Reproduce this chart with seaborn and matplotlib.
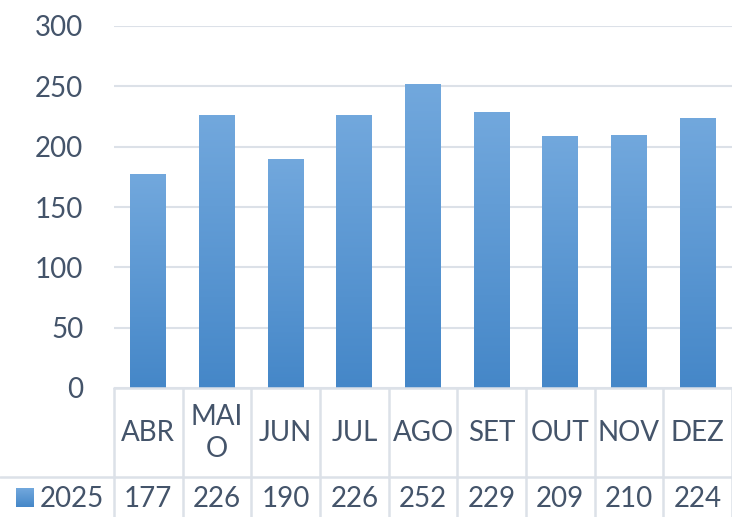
import numpy as np
import pandas as pd
import matplotlib
matplotlib.use("Agg")
import matplotlib.pyplot as plt
import matplotlib.transforms as mtransforms
from matplotlib.colors import LinearSegmentedColormap
import seaborn as sns

months = ["ABR", "MAIO", "JUN", "JUL", "AGO", "SET", "OUT", "NOV", "DEZ"]
header_labels = ["ABR", "MAI\nO", "JUN", "JUL", "AGO", "SET", "OUT", "NOV", "DEZ"]
values_2025 = [177, 226, 190, 226, 252, 229, 209, 210, 224]
series_name = "2025"
y_ticks = [0, 50, 100, 150, 200, 250, 300]

sns.set_theme(style="white")
plt.rcParams["font.family"] = ["Lato", "DejaVu Sans"]

TXT = "#44546A"
GRID = "#DCE1E8"
FS = 20

W, H = 732, 517
fig = plt.figure(figsize=(W / 100, H / 100), dpi=100)
x0, x1 = 114, 732
ytop, ybot = 26, 388
ax = fig.add_axes([x0 / W, 1 - ybot / H, (x1 - x0) / W, (ybot - ytop) / H])

df = pd.DataFrame({"month": months, "value": values_2025})
sns.barplot(data=df, x="month", y="value", ax=ax, width=0.52, color="#5B9BD5",
            saturation=1)

ax.set_ylim(0, 300)
ax.set_xlim(-0.5, len(months) - 0.5)
ax.set_yticks(y_ticks)
ax.set_yticklabels([str(t) for t in y_ticks], fontsize=FS, color=TXT)
ax.tick_params(axis="y", length=0, pad=22)
ax.set_xticks([])
ax.set_xlabel("")
ax.set_ylabel("")
for s in ax.spines.values():
    s.set_visible(False)
ax.yaxis.grid(True, color=GRID, linewidth=1.5)
ax.set_axisbelow(True)

# gradient fill for bars
cmap = LinearSegmentedColormap.from_list("g", ["#4587C8", "#72A8DD"])
grad = np.linspace(0, 1, 256).reshape(-1, 1)
for p in list(ax.patches):
    bx, by = p.get_x(), p.get_y()
    bw, bh = p.get_width(), p.get_height()
    p.set_facecolor("none")
    p.set_edgecolor("none")
    im = ax.imshow(grad, cmap=cmap, origin="lower", aspect="auto",
                   extent=[bx, bx + bw, by, by + bh], zorder=2)
    im.set_clip_path(p)
ax.set_xlim(-0.5, len(months) - 0.5)
ax.set_ylim(0, 300)

# data table
fy = lambda py: 1 - py / H
row_mid = 477
trans = mtransforms.blended_transform_factory(ax.transData, fig.transFigure)
line_kw = dict(color=GRID, linewidth=1.8, clip_on=False)

ax.plot([-0.5, len(months) - 0.5], [fy(ybot)] * 2, transform=trans, **line_kw)
fig.add_artist(plt.Line2D([0, 1], [fy(row_mid)] * 2, transform=fig.transFigure,
                          color=GRID, linewidth=1.8))
for i in range(len(months) + 1):
    ax.plot([i - 0.5, i - 0.5], [fy(ybot), 0], transform=trans, **line_kw)

for i, (lab, v) in enumerate(zip(header_labels, values_2025)):
    ax.text(i, fy(433), lab, transform=trans, ha="center", va="center",
            fontsize=FS, color=TXT, linespacing=1.25, clip_on=False)
    ax.text(i, fy(499), str(v), transform=trans, ha="center", va="center",
            fontsize=FS, color=TXT, clip_on=False)

# legend key in table
kax = fig.add_axes([16 / W, 1 - 507 / H, 18 / W, 19 / H])
kax.imshow(grad, cmap=cmap, origin="lower", aspect="auto", extent=[0, 1, 0, 1])
kax.set_axis_off()
fig.text(40 / W, fy(499), series_name, ha="left", va="center", fontsize=FS, color=TXT)

fig.savefig("out.png", dpi=100)
